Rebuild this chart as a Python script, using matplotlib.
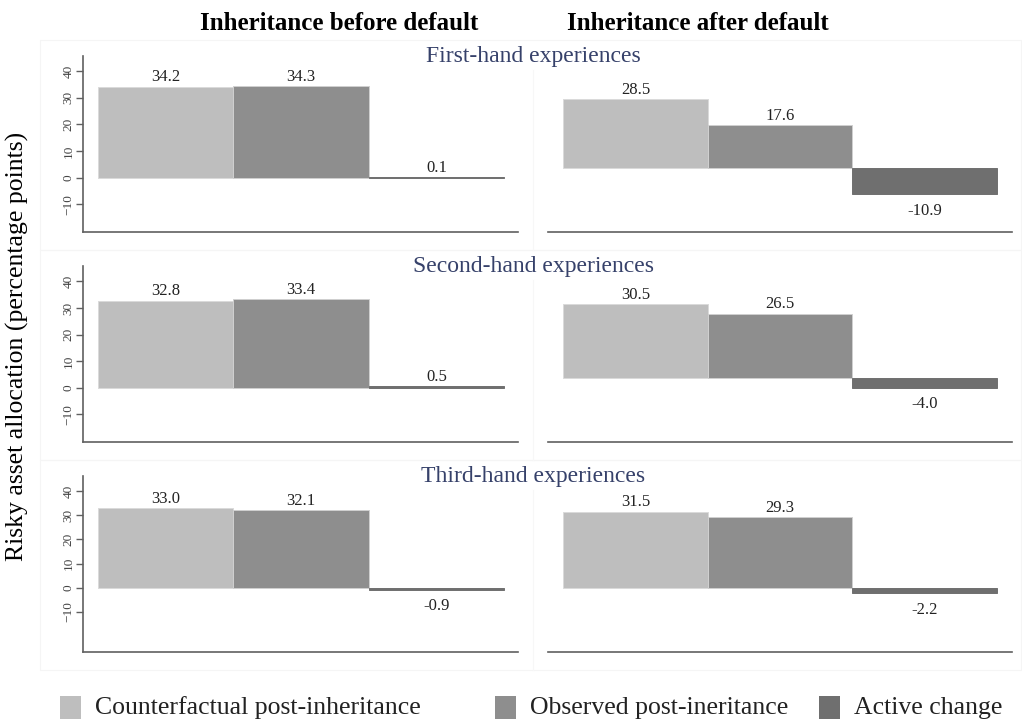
import matplotlib
matplotlib.use("Agg")
import matplotlib.pyplot as plt
from matplotlib.patches import Rectangle

plt.rcParams['font.family'] = ['Liberation Serif', 'DejaVu Serif']

# data
categories = ["Counterfactual post-inheritance", "Observed post-ineritance", "Active change"]
row_titles = ["First-hand experiences", "Second-hand experiences", "Third-hand experiences"]
col_titles = ["Inheritance before default", "Inheritance after default"]
before_first = [34.2, 34.3, 0.1]
after_first = [28.5, 17.6, -10.9]
before_second = [32.8, 33.4, 0.5]
after_second = [30.5, 26.5, -4.0]
before_third = [33.0, 32.1, -0.9]
after_third = [31.5, 29.3, -2.2]
yticks = [-10, 0, 10, 20, 30, 40]

colors = ['#bebebe', '#8e8e8e', '#6f6f6f']
edges = ['#dadada', '#d0d0d0', '#6f6f6f']
W, H = 1022, 722

panels = [
    [before_first, after_first],
    [before_second, after_second],
    [before_third, after_third],
]
ylims = [
    [(-20.3, 45.7), (-26.3, 46.2)],
    [(-20.3, 45.8), (-26.3, 46.2)],
    [(-26.4, 46.2), (-26.3, 46.2)],
]

fig = plt.figure(figsize=(W / 100, H / 100), dpi=100)

# faint boxes around each row graph
for r in range(3):
    top = 40 + 210 * r
    fig.add_artist(Rectangle((40 / W, 1 - (top + 210) / H), (W - 41) / W, 210 / H,
                             transform=fig.transFigure, fill=False,
                             edgecolor='#f5f5f5', lw=0.8))
    fig.add_artist(plt.Line2D([533 / W, 533 / W], [1 - (top + 210) / H, 1 - (top + 30) / H],
                              transform=fig.transFigure, color='#f7f7f7', lw=0.8))

lefts = [83.3, 548.3]
widths = [435.0, 463.4]
for r in range(3):
    top = 56 + 210 * r
    for c in range(2):
        ax = fig.add_axes([lefts[c] / W, 1 - (top + 175.7) / H, widths[c] / W, 175.7 / H])
        vals = panels[r][c]
        x = list(range(len(vals)))
        ax.bar(x, vals, width=1.0, color=colors, edgecolor=edges, linewidth=0.7, zorder=2)
        for xi, v in zip(x, vals):
            if v >= 0:
                ax.annotate(f"{v:.1f}", (xi, v), xytext=(0, 1), textcoords='offset points',
                            ha='center', va='bottom', fontsize=12, color='#222222')
            else:
                ax.annotate(f"{v:.1f}", (xi, v), xytext=(0, -6), textcoords='offset points',
                            ha='center', va='top', fontsize=12, color='#222222')
        ax.set_xlim(-0.605, 2.605)
        ax.set_ylim(*ylims[r][c])
        ax.set_xticks([])
        for s in ['top', 'right']:
            ax.spines[s].set_visible(False)
        ax.spines['bottom'].set_color('#606060')
        ax.spines['bottom'].set_linewidth(1.2)
        if c == 0:
            ax.spines['left'].set_color('#606060')
            ax.spines['left'].set_linewidth(1.2)
            ax.set_yticks(yticks)
            ax.tick_params(axis='y', length=4.8, width=1, color='#606060',
                           labelsize=9.5, labelcolor='#444444', pad=1.5)
            for lab in ax.get_yticklabels():
                lab.set_rotation(90)
                lab.set_va('center')
        else:
            ax.spines['left'].set_visible(False)
            ax.set_yticks([])

    fig.text(533 / W, 1 - (62 + 210 * r) / H, row_titles[r], ha='center', va='baseline',
             fontsize=17, color='#36416a')

fig.text(339 / W, 1 - 23 / H, col_titles[0], ha='center', va='center',
         fontsize=18, fontweight='bold')
fig.text(698 / W, 1 - 23 / H, col_titles[1], ha='center', va='center',
         fontsize=18, fontweight='bold')

fig.text(17 / W, 1 - 346 / H, "Risky asset allocation (percentage points)",
         rotation=90, ha='center', va='center', fontsize=18.5)

# legend, laid out like the Stata one
key_x = [60, 495, 819]
for kx, col, name in zip(key_x, colors, categories):
    fig.add_artist(Rectangle((kx / W, 1 - 719 / H), 21 / W, 23 / H,
                             transform=fig.transFigure, facecolor=col, edgecolor='none'))
    fig.text((kx + 35) / W, 1 - 708 / H, name, ha='left', va='center',
             fontsize=18.5, color='#222222')

fig.savefig("out.png", dpi=100)
